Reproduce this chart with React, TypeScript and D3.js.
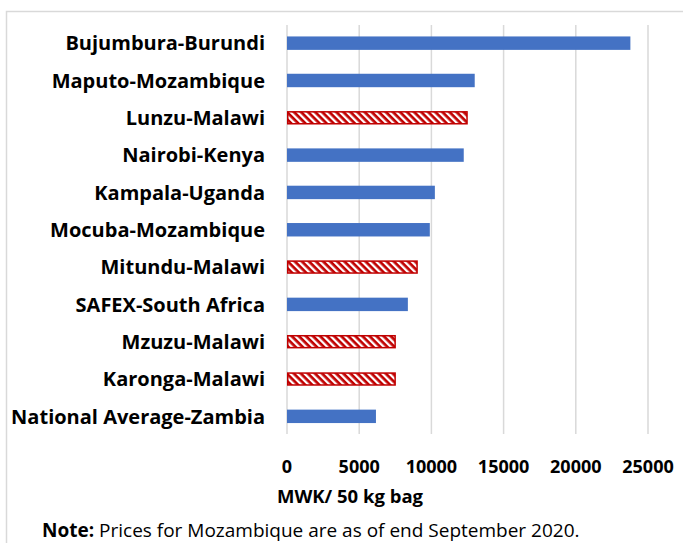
import React from 'react';
import * as d3 from 'd3';

const markets = [
  'Bujumbura-Burundi',
  'Maputo-Mozambique',
  'Lunzu-Malawi',
  'Nairobi-Kenya',
  'Kampala-Uganda',
  'Mocuba-Mozambique',
  'Mitundu-Malawi',
  'SAFEX-South Africa',
  'Mzuzu-Malawi',
  'Karonga-Malawi',
  'National Average-Zambia',
];
const prices = [23780, 13000, 12520, 12240, 10240, 9890, 9060, 8370, 7540, 7540, 6160];
const isMalawi = [false, false, true, false, false, false, true, false, true, true, false];
const xTicks = [0, 5000, 10000, 15000, 20000, 25000];

const W = 683;
const H = 543;
const font = '"Open Sans", "Liberation Sans", sans-serif';

export default function App() {
  const x = d3.scaleLinear().domain([0, 25000]).range([287, 648]);
  const y = d3.scaleBand<string>().domain(markets).range([24.5, 435]).paddingInner(0.64).paddingOuter(0.32);

  return (
    <svg width={W} height={H} style={{ position: 'absolute', left: 0, top: 0, background: '#fff' }}>
      <defs>
        <pattern id="hatch" patternUnits="userSpaceOnUse" width="5" height="5" patternTransform="rotate(-45)">
          <rect width="5" height="5" fill="#c00000" />
          <rect width="2.3" height="5" fill="#fff" />
        </pattern>
      </defs>
      {/* chart frame */}
      <path d={`M6.5,${H} V11.5 H${W}`} fill="none" stroke="#d9d9d9" strokeWidth={1.5} />

      {xTicks.map(t => (
        <line key={t} x1={x(t)} x2={x(t)} y1={25} y2={434} stroke="#d9d9d9" strokeWidth={1.5} />
      ))}

      {markets.map((m, i) => {
        const by = y(m)!;
        return (
          <g key={m}>
            {isMalawi[i] ? (
              <rect x={x(0) + 0.75} y={by + 0.75} width={x(prices[i]) - x(0) - 1.5} height={y.bandwidth() - 1.5}
                fill="url(#hatch)" stroke="#c00000" strokeWidth={1.5} />
            ) : (
              <rect x={x(0)} y={by} width={x(prices[i]) - x(0)} height={y.bandwidth()} fill="#4472c4" />
            )}
            <text x={265} y={by + y.bandwidth() / 2} dy="0.36em" textAnchor="end"
              fontFamily={font} fontWeight={700} fontSize={20} fill="#000">{m}</text>
          </g>
        );
      })}

      {xTicks.map(t => (
        <text key={t} x={x(t)} y={473} textAnchor="middle" fontFamily={font} fontWeight={700} fontSize={18} fill="#000">{t}</text>
      ))}

      <text x={350} y={503} textAnchor="middle" fontFamily={font} fontWeight={700} fontSize={18.5} fill="#000">MWK/ 50 kg bag</text>

      <text x={42} y={537} fontFamily={font} fontSize={19} fill="#000">
        <tspan fontWeight={700}>Note:</tspan> Prices for Mozambique are as of end September 2020.
      </text>
    </svg>
  );
}
